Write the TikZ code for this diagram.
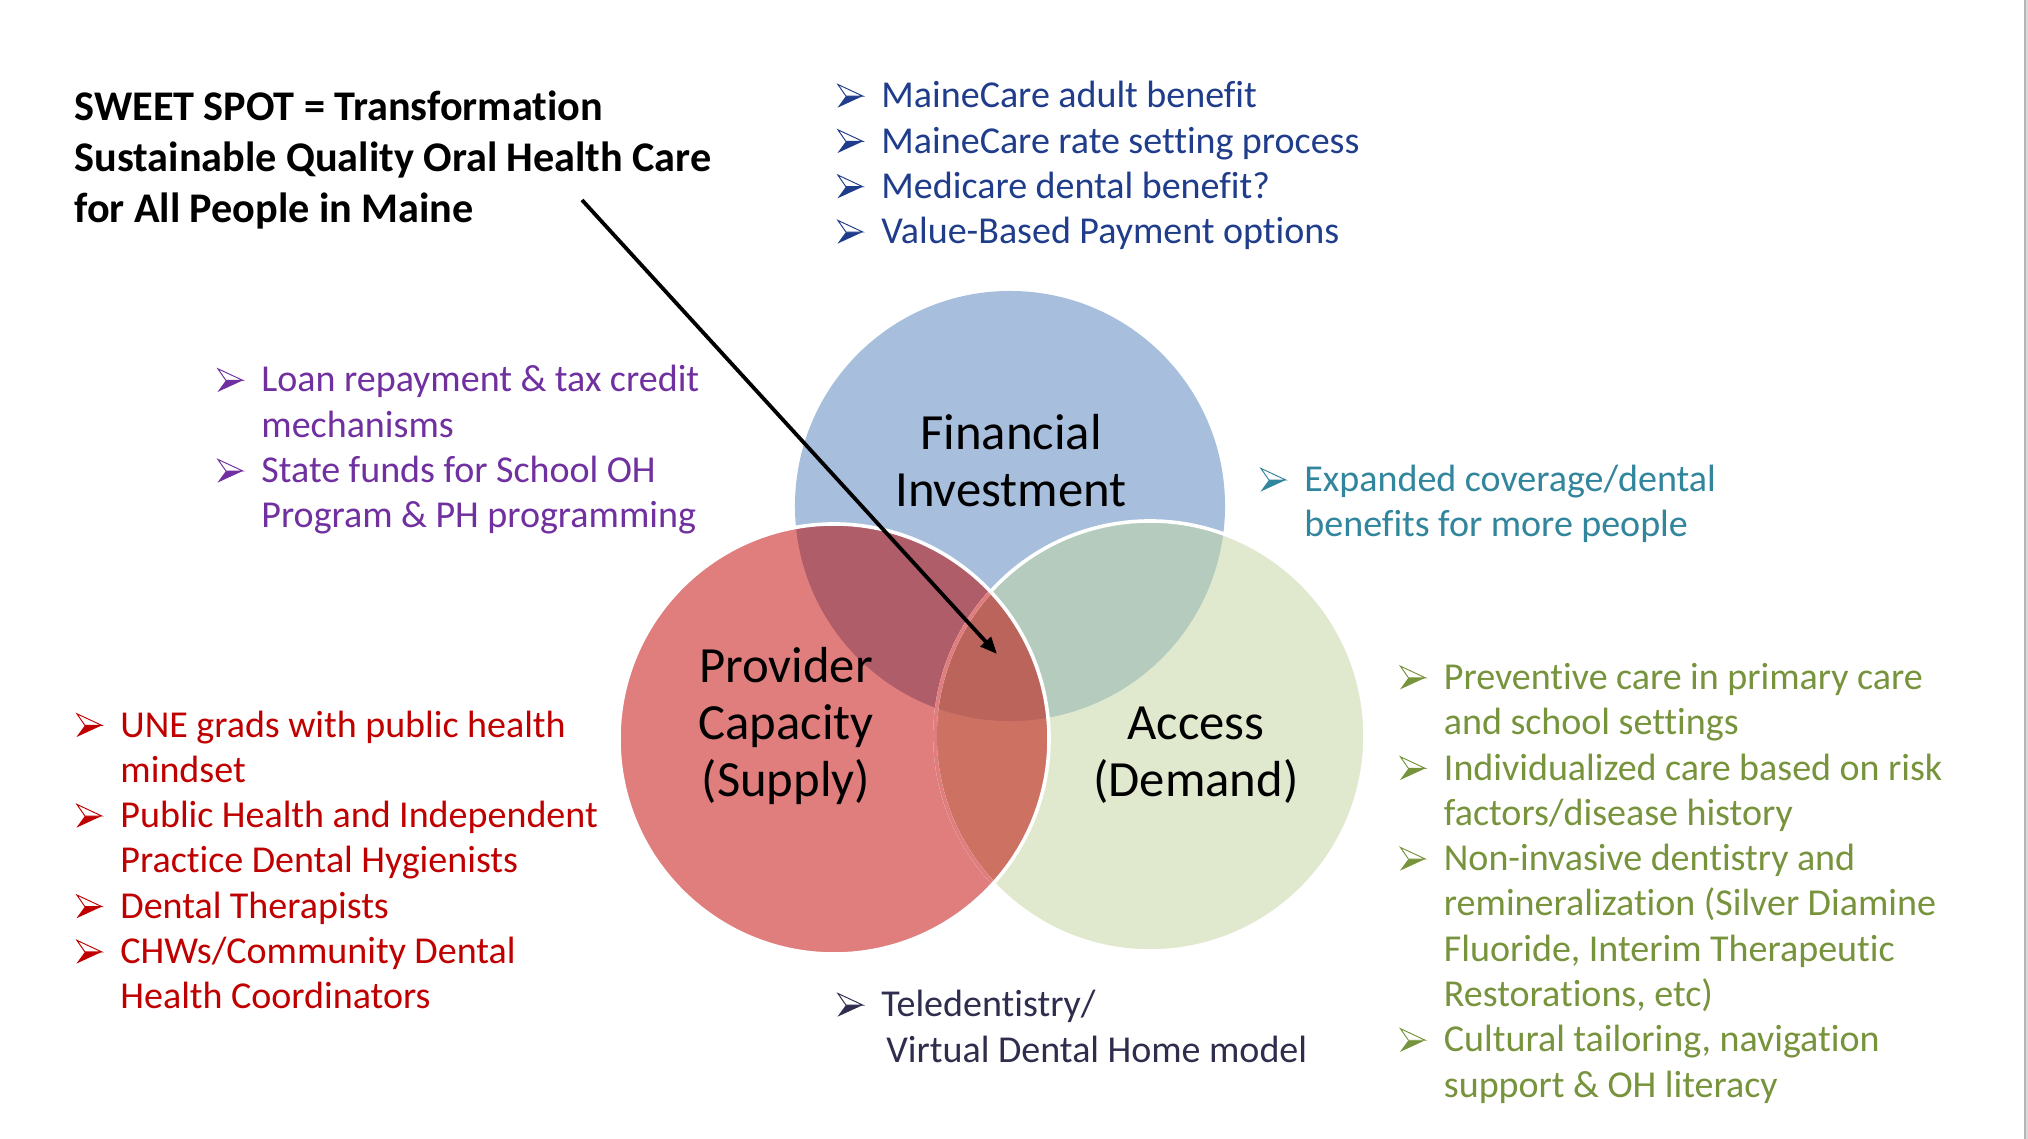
\documentclass[tikz,border=0pt]{standalone}
\usepackage{fontspec}
\setmainfont{Carlito}[Ligatures=NoCommon]
\usetikzlibrary{arrows.meta}
\definecolor{cblue}{HTML}{A7BFDC}
\definecolor{cred}{HTML}{DF7E7D}
\definecolor{cgreen}{HTML}{E0E9CD}
\definecolor{crb}{HTML}{B05D6A}
\definecolor{cbg}{HTML}{B4CBBE}
\definecolor{crg}{HTML}{CD7163}
\definecolor{crgb}{HTML}{BA645C}
\definecolor{tblue}{HTML}{1F3D8B}
\definecolor{tpurple}{HTML}{7030A0}
\definecolor{tteal}{HTML}{31859C}
\definecolor{tred}{HTML}{C00000}
\definecolor{tgreen}{HTML}{77933C}
\definecolor{tnavy}{HTML}{2E2D4D}
\definecolor{edgegray}{HTML}{B5B5B5}
\definecolor{edgelight}{HTML}{DCDCDC}
\newcommand{\bul}[1]{\makebox[20.83pt][l]{\tikz[x=1pt,y=1pt,baseline=0pt]{%
  \fill[#1] (0,0) -- (12,5.5) -- (4,5.5) -- cycle;
  \filldraw[fill=white,draw=#1,line width=0.45pt,line join=miter] (0.2,11) -- (12,5.5) -- (4,5.5) -- cycle;}}}
\newcommand{\ind}{\hspace*{20.83pt}}
\newcommand{\tsp}{\spaceskip=4.0pt\relax}
\newcommand{\tspb}{\spaceskip=4.4pt\relax}
\begin{document}
\begin{tikzpicture}[x=0.4734pt,y=-0.4734pt,
  body/.style={inner sep=0pt, anchor=base west, align=left, text width=330pt,
    font=\fontsize{18}{21.45}\selectfont},
  lbl/.style={inner sep=0pt, anchor=base, align=center, text width=160pt,
    font=\fontsize{24}{27}\selectfont},
  ring/.style={white, line width=1.7pt}]
\useasboundingbox (0,0) rectangle (2028,1139);
\fill[white] (0,0) rectangle (2028,1139);
\fill[edgelight] (2025,0) rectangle (2028,1139);
\draw[edgegray, line width=0.8pt] (2025,0) -- (2025,1139);
\def\R{101.8pt}
\coordinate (cF) at (1010,506);
\coordinate (cP) at (834,739);
\coordinate (cA) at (1150,736);
% circle fills
\fill[cblue] (cF) circle[radius=\R];
\fill[cgreen] (cA) circle[radius=\R];
\begin{scope}
  \clip (cF) circle[radius=\R];
  \fill[cbg] (cA) circle[radius=\R];
\end{scope}
\fill[cred] (cP) circle[radius=\R];
\begin{scope}
  \clip (cP) circle[radius=\R];
  \fill[crb] (cF) circle[radius=\R];
  \fill[crg] (cA) circle[radius=\R];
  \clip (cF) circle[radius=\R];
  \fill[crgb] (cA) circle[radius=\R];
\end{scope}
% borders
\draw[ring] (cA) circle[radius=\R];
\begin{scope}
  \clip (cP) circle[radius=\R];
  \draw[cred, line width=1.7pt] (cA) circle[radius=\R];
\end{scope}
\draw[ring] (cP) circle[radius=\R];
% circle labels
\node[lbl] (fin) at (1011,449.5) {Financial\\Investment};
\node[lbl] (prov) at (786,682.5) {Provider\\Capacity\\(Supply)};
\node[lbl] (acc) at (1196,739.5) {Access\\(Demand)};
% title
\node[inner sep=0pt, anchor=base west, align=left, text width=400pt,
  font=\fontsize{20}{24.14}\selectfont\bfseries] (title) at (74,120.5)
  {\tspb SWEET SPOT = Transformation\\Sustainable Quality Oral Health Care\\for All People in Maine};
% lists
\node[body, text=tblue] (fund) at (837,107.7) {\tsp
\bul{tblue}MaineCare adult benefit\\%
\bul{tblue}MaineCare rate setting process\\%
\bul{tblue}Medicare dental benefit?\\%
\bul{tblue}Value-Based Payment options};
\node[body, text=tpurple] (loan) at (217,392) {\tsp
\bul{tpurple}Loan repayment \& tax credit\\%
\ind mechanisms\\%
\bul{tpurple}State funds for School OH\\%
\ind Program \& PH programming};
\node[body, text=tteal] (cover) at (1260,491.6) {\tsp
\bul{tteal}Expanded coverage/dental\\%
\ind benefits for more people};
\node[body, text=tred] (supply) at (76,737) {\tsp
\bul{tred}UNE grads with public health\\%
\ind mindset\\%
\bul{tred}Public Health and Independent\\%
\ind Practice Dental Hygienists\\%
\bul{tred}Dental Therapists\\%
\bul{tred}CHWs/Community Dental\\%
\ind Health Coordinators};
\node[body, text=tgreen] (demand) at (1399.5,689.4) {\tsp
\bul{tgreen}Preventive care in primary care\\%
\ind and school settings\\%
\bul{tgreen}Individualized care based on risk\\%
\ind factors/disease history\\%
\bul{tgreen}Non-invasive dentistry and\\%
\ind remineralization (Silver Diamine\\%
\ind Fluoride, Interim Therapeutic\\%
\ind Restorations, etc)\\%
\bul{tgreen}Cultural tailoring, navigation\\%
\ind support \& OH literacy};
\node[body, text=tnavy] (tele) at (837,1016.7) {\tsp
\bul{tnavy}Teledentistry/\\%
\hspace*{23.2pt}Virtual Dental Home model};
% arrow
\coordinate (arrowstart) at (582,200);
\coordinate (sweet) at (997,654);
\draw[line width=1.8pt, -{Triangle[length=8pt,width=6.5pt]}] (arrowstart) -- (sweet);
\end{tikzpicture}
\end{document}
